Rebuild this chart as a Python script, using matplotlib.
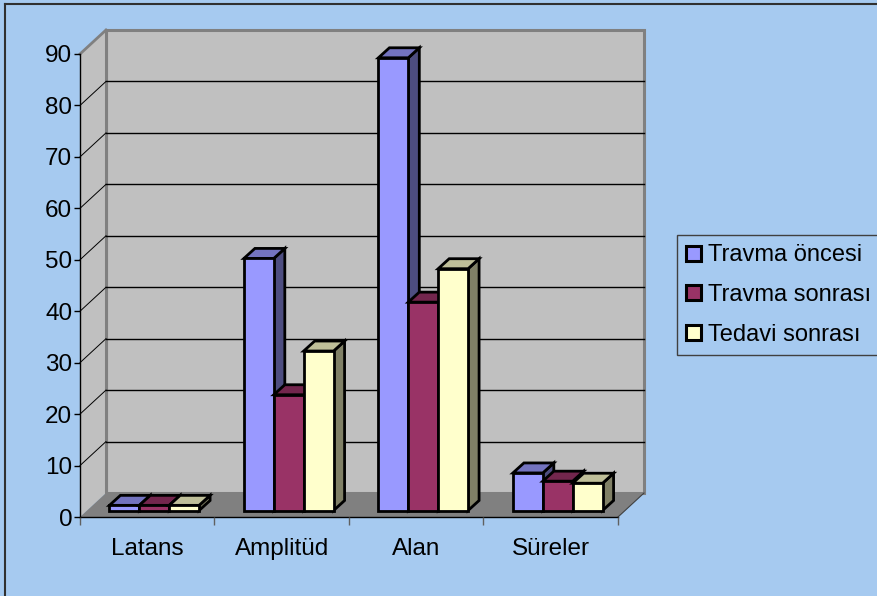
import matplotlib
matplotlib.use('Agg')
import matplotlib.pyplot as plt
import matplotlib.transforms as mtransforms
from matplotlib.patches import Polygon, Patch
from matplotlib.lines import Line2D

# data
categories = ['Latans', 'Amplitüd', 'Alan', 'Süreler']
travma_oncesi = [1, 49, 88, 7.3]
travma_sonrasi = [1, 22.5, 40.5, 5.7]
tedavi_sonrasi = [1, 31, 47, 5.3]
series_names = ['Travma öncesi', 'Travma sonrası', 'Tedavi sonrası']
yticks = [0, 10, 20, 30, 40, 50, 60, 70, 80, 90]

# front, top, side colours (Excel style shading)
colors = [('#9999FF', '#7373BF', '#4D4D80'),
          ('#993366', '#73264D', '#4D1A33'),
          ('#FFFFCC', '#BFBF99', '#808066')]
bg = '#A6CAF0'
wall = '#C0C0C0'

plt.rcParams['font.family'] = ['Liberation Sans', 'DejaVu Sans']

W, H = 877, 596
fig = plt.figure(figsize=(W / 100, H / 100), dpi=100, facecolor=bg)
ax_l, ax_b, ax_w, ax_h = 80, 79, 538, 463
ax = fig.add_axes([ax_l / W, ax_b / H, ax_w / W, ax_h / H])
ax.set_facecolor('none')
n = len(categories)
ymax = 90
ax.set_xlim(0, n)
ax.set_ylim(0, ymax)

kx = ax_w / n
ky = ax_h / ymax
# depth of the whole box and of a bar, in data units
Dx, Dy = 26 / kx, 24 / ky
bx, by = 11 / kx, 10 / ky

# back wall, side wall, floor
ax.add_patch(Polygon([(Dx, Dy), (n + Dx, Dy), (n + Dx, ymax + Dy), (Dx, ymax + Dy)],
                     closed=True, facecolor=wall, edgecolor='#808080', lw=2.2,
                     zorder=0, clip_on=False))
ax.add_patch(Polygon([(0, 0), (Dx, Dy), (Dx, ymax + Dy), (0, ymax)],
                     closed=True, facecolor=wall, edgecolor='none',
                     zorder=0.1, clip_on=False))
ax.plot([0, Dx], [ymax, ymax + Dy], color='#808080', lw=2, zorder=0.2, clip_on=False)
ax.plot([Dx, Dx], [Dy, ymax + Dy], color='#808080', lw=2.2, zorder=0.2, clip_on=False)
for v in yticks[1:-1]:
    ax.plot([Dx, n + Dx], [v + Dy, v + Dy], color='black', lw=1, zorder=0.3, clip_on=False)
    ax.plot([0, Dx], [v, v + Dy], color='black', lw=0.7, zorder=0.3, clip_on=False)
ax.add_patch(Polygon([(0, 0), (n, 0), (n + Dx, Dy), (Dx, Dy)],
                     closed=True, facecolor='#808080', edgecolor='none',
                     zorder=0.5, clip_on=False))
ax.plot([n, n + Dx], [0, Dy], color='#404040', lw=0.8, zorder=0.6, clip_on=False)

# bars
bar_trans = ax.transData + mtransforms.ScaledTranslation(7 / 100, 6.5 / 100, fig.dpi_scale_trans)
w = 1 / 4.5
all_series = [travma_oncesi, travma_sonrasi, tedavi_sonrasi]
for c in range(n):
    for i, vals in enumerate(all_series):
        x = c + 0.75 * w + i * w
        v = vals[c]
        z = 2 + c * 3 + i
        front, top, side = colors[i]
        ax.add_patch(Polygon([(x + w, 0), (x + w + bx, by), (x + w + bx, v + by), (x + w, v)],
                             closed=True, facecolor=side, edgecolor='black', lw=2,
                             transform=bar_trans, zorder=z, clip_on=False))
        ax.add_patch(Polygon([(x, v), (x + w, v), (x + w + bx, v + by), (x + bx, v + by)],
                             closed=True, facecolor=top, edgecolor='black', lw=2,
                             transform=bar_trans, zorder=z, clip_on=False))
        ax.bar(x, v, width=w, align='edge', color=front, edgecolor='black', lw=2,
               transform=bar_trans, zorder=z, clip_on=False)

# axes
for s in ['top', 'right']:
    ax.spines[s].set_visible(False)
ax.spines['left'].set_color('black')
ax.spines['bottom'].set_color('black')
ax.spines['left'].set_linewidth(1)
ax.spines['bottom'].set_linewidth(1)
ax.spines['left'].set_zorder(1)
ax.spines['bottom'].set_zorder(1)
ax.set_yticks(yticks)
ax.tick_params(axis='y', direction='out', length=4, width=1, pad=1.5,
               labelsize=17.5, colors='black')
ax.set_xticks(range(n + 1))
ax.set_xticklabels([])
ax.set_xticks([c + 0.5 for c in range(n)], minor=True)
ax.set_xticklabels(categories, minor=True)
ax.tick_params(axis='x', which='major', direction='out', length=6, width=1, color='#606060')
ax.tick_params(axis='x', which='minor', length=0, pad=15, labelsize=17.5)

handles = [Patch(facecolor=col[0], edgecolor='black', lw=2.2) for col in colors]
leg = fig.legend(handles, series_names, loc='upper left',
                 bbox_to_anchor=(677 / W, 1 - 235 / H), fontsize=17,
                 frameon=True, fancybox=False, framealpha=1, facecolor=bg,
                 edgecolor='#404040', handlelength=0.6, handleheight=0.6,
                 handletextpad=0.3, labelspacing=0.75, borderpad=0.4,
                 borderaxespad=0)
leg.get_frame().set_linewidth(1)

# outer chart border (only top and left visible)
fig.add_artist(Line2D([5 / W, 5 / W], [0, 1 - 4 / H], color='#303030', lw=1.5))
fig.add_artist(Line2D([5 / W, 1], [1 - 4 / H, 1 - 4 / H], color='#303030', lw=1.5))

fig.savefig('out.png', dpi=100, facecolor=bg)
